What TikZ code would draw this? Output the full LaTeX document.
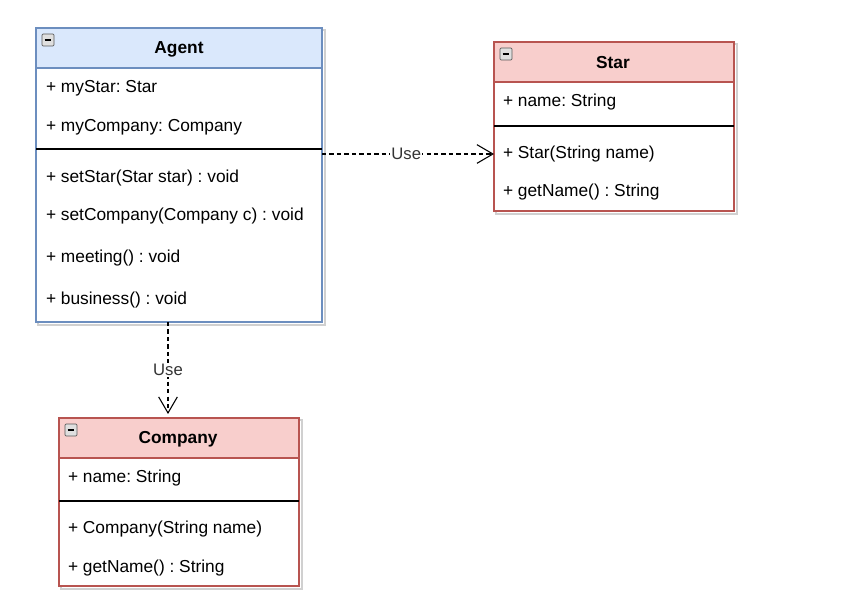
\documentclass[tikz,border=0pt]{standalone}
\usepackage{fontspec}
\setmainfont{Liberation Sans}
\frenchspacing
\usetikzlibrary{arrows.meta,decorations.pathmorphing}
\definecolor{blueFill}{HTML}{DAE8FC}
\definecolor{blueLine}{HTML}{6C8EBF}
\definecolor{redFill}{HTML}{F8CECC}
\definecolor{redLine}{HTML}{B85450}
\definecolor{shadowGray}{HTML}{D0D0D0}
\tikzset{
  x=0.75pt, y=-0.75pt,
  every node/.style={font=\fontsize{13}{15}\selectfont, inner sep=0pt, outer sep=0pt},
  hdr/.style={draw=#1, line width=0.8pt, anchor=north west, minimum height=30pt},
  body/.style={draw=#1, line width=0.8pt, anchor=north west, fill=white},
  title/.style={font=\fontsize{13}{15}\selectfont\bfseries},
  member/.style={anchor=west},
  sepline/.style={draw=black, line width=0.8pt},
  shadowbox/.style={draw=shadowGray, line width=1.2pt},
  dep/.style={draw=black, line width=0.8pt, dash pattern=on 3.2pt off 2.4pt, -{Straight Barb[length=12pt,width=14pt,line width=0.8pt]}},
  lbl/.style={fill=white, inner sep=1pt, font=\fontsize{12.5}{14}\selectfont, text=black!80},
  minusicon/.style={draw=gray!70!black, line width=0.5pt, fill=gray!25, rounded corners=0.8pt, minimum size=9pt, anchor=north west}
}
\begin{document}
\begin{tikzpicture}
\useasboundingbox (0,0) rectangle (858,613);
% ---------- shadows
\draw[shadowbox] (38,30) rectangle (325,325);
\draw[shadowbox] (496,44) rectangle (737,214);
\draw[shadowbox] (61,420) rectangle (302,589);
% ---------- Agent
\node[body=blueLine, minimum width=214.5pt, minimum height=220.5pt] (agentBody) at (36,28) {};
\node[hdr=blueLine, fill=blueFill, minimum width=214.5pt] (agentHead) at (36,28) {};
\node[title] (agentTitle) at (179,49) {Agent};
\node[minusicon] (agentIcon) at (42,34) {};
\draw[line width=0.9pt] ([xshift=2pt]agentIcon.west) -- ([xshift=-2pt]agentIcon.east);
\node[member] (agentA1) at (46,88) {+ myStar: Star};
\node[member] (agentA2) at (46,127) {+ myCompany: Company};
\draw[sepline] (36,149) -- (322,149);
\node[member] (agentM1) at (46,178) {+ setStar(Star star) : void};
\node[member] (agentM2) at (46,216) {+ setCompany(Company c) : void};
\node[member] (agentM3) at (46,258) {+ meeting() : void};
\node[member] (agentM4) at (46,300) {+ business() : void};
% ---------- Star
\node[body=redLine, minimum width=180pt, minimum height=126.75pt] (starBody) at (494,42) {};
\node[hdr=redLine, fill=redFill, minimum width=180pt] (starHead) at (494,42) {};
\node[title] (starTitle) at (613,63) {Star};
\node[minusicon] (starIcon) at (500,48) {};
\draw[line width=0.9pt] ([xshift=2pt]starIcon.west) -- ([xshift=-2pt]starIcon.east);
\node[member] (starA1) at (503,102) {+ name: String};
\draw[sepline] (494,126) -- (734,126);
\node[member] (starM1) at (503,154) {+ Star(String name)};
\node[member] (starM2) at (503,192) {+ getName() : String};
% ---------- Company
\node[body=redLine, minimum width=180pt, minimum height=126pt] (compBody) at (59,418) {};
\node[hdr=redLine, fill=redFill, minimum width=180pt] (compHead) at (59,418) {};
\node[title] (compTitle) at (178,439) {Company};
\node[minusicon] (compIcon) at (65,424) {};
\draw[line width=0.9pt] ([xshift=2pt]compIcon.west) -- ([xshift=-2pt]compIcon.east);
\node[member] (compA1) at (68,478) {+ name: String};
\draw[sepline] (59,501) -- (299,501);
\node[member] (compM1) at (68,529) {+ Company(String name)};
\node[member] (compM2) at (68,568) {+ getName() : String};
% ---------- dependencies
\coordinate (useTop) at (168,322);
\draw[dep] (agentBody.east |- starM1) -- node[lbl, pos=0.49] (use1) {Use} (starBody.west |- starM1);
\draw[dep] (useTop) -- node[lbl, pos=0.52] (use2) {Use} ([yshift=3pt]useTop |- compHead.north);
\end{tikzpicture}
\end{document}
